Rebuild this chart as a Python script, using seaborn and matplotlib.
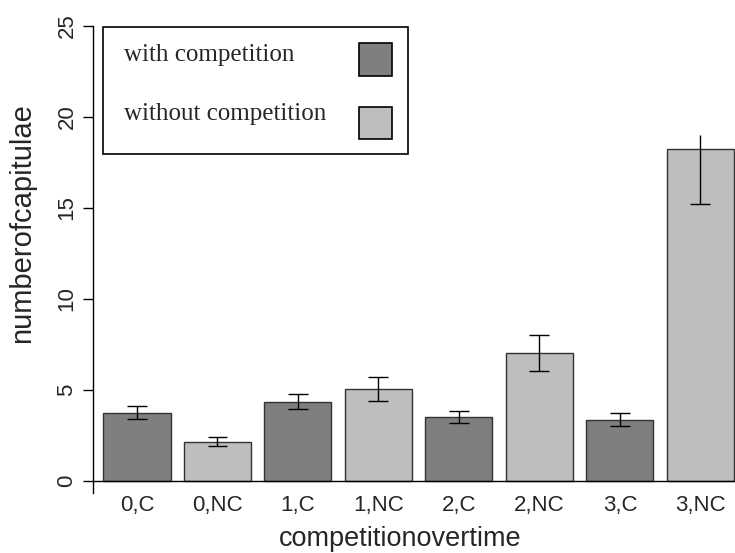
import matplotlib
matplotlib.use("Agg")
import matplotlib.pyplot as plt
from matplotlib.patches import Rectangle
import seaborn as sns
import pandas as pd

# Mean number of capitulae per time point and competition treatment
labels = ["0,C", "0,NC", "1,C", "1,NC", "2,C", "2,NC", "3,C", "3,NC"]
groups = ["with competition", "without competition"] * 4
means = [3.73, 2.14, 4.34, 5.05, 3.52, 7.02, 3.35, 18.23]
err_low = [3.37, 1.89, 3.92, 4.40, 3.17, 6.03, 3.00, 15.20]
err_high = [4.12, 2.38, 4.78, 5.68, 3.85, 7.99, 3.70, 18.98]
upper_cap = [True, True, True, True, True, True, True, False]
yticks = [0, 5, 10, 15, 20, 25]

palette = {"with competition": "#7f7f7f", "without competition": "#bebebe"}

df = pd.DataFrame({"time": labels, "group": groups, "mean": means})

sns.set_style("white")
plt.rcParams["font.family"] = ["Liberation Sans", "DejaVu Sans"]

fig = plt.figure(figsize=(7.35, 5.53), dpi=100)
ax = fig.add_axes([0.1265, 0.1085, 0.8735, 0.845])

sns.barplot(data=df, x="time", y="mean", hue="group", palette=palette,
            dodge=False, width=0.833, edgecolor="#333333", linewidth=1,
            errorbar=None, legend=False, order=labels, ax=ax)

# error bars: stems plus horizontal caps
xs = list(range(len(labels)))
cap = 0.124
ax.vlines(xs, err_low, err_high, color="black", lw=1, zorder=4)
ax.hlines(err_low, [x - cap for x in xs], [x + cap for x in xs],
          color="black", lw=1, zorder=4)
cx = [x for x, c in zip(xs, upper_cap) if c]
cy = [y for y, c in zip(err_high, upper_cap) if c]
ax.hlines(cy, [x - cap for x in cx], [x + cap for x in cx],
          color="black", lw=1, zorder=4)

ax.axhline(0, color="black", lw=1, zorder=3)

ax.set_xlim(-0.547, 7.43)
ax.set_ylim(-0.68, 25)
ax.set_yticks(yticks)
ax.set_yticklabels([str(t) for t in yticks], rotation=90, va="center",
                   fontsize=16)
ax.tick_params(axis="y", length=7.2, width=1, color="black", pad=4,
               left=True, direction="out")
ax.tick_params(axis="x", length=0, pad=1.5, labelsize=16)

for s in ["top", "right", "bottom"]:
    ax.spines[s].set_visible(False)
ax.spines["left"].set_color("black")
ax.spines["left"].set_linewidth(1)

ax.set_xlabel("competitionovertime", fontsize=19.5)
ax.set_ylabel("numberofcapitulae", fontsize=21)
ax.xaxis.label.set_va("center")
ax.xaxis.set_label_coords(0.478, -0.0984)
ax.yaxis.label.set_va("center")
ax.yaxis.set_label_coords(-0.111, 0.577)

# legend box drawn in figure coordinates
fig.patches.append(Rectangle((0.1405, 0.721), 0.4141, 0.2307,
                             transform=fig.transFigure, fill=False,
                             edgecolor="black", lw=1.2, zorder=5))
legend_y = [0.8897, 0.783]
box_y = [0.8631, 0.7486]
for name, ty, by in zip(["with competition", "without competition"],
                        legend_y, box_y):
    fig.text(0.1691, ty, name, fontsize=18, va="baseline", ha="left",
             family=["Liberation Serif", "DejaVu Serif"])
    fig.patches.append(Rectangle((0.4888, by), 0.0445, 0.0586,
                                 transform=fig.transFigure,
                                 facecolor=palette[name],
                                 edgecolor="black", lw=1.2, zorder=5))

fig.savefig("out.png", dpi=100, facecolor="white")
